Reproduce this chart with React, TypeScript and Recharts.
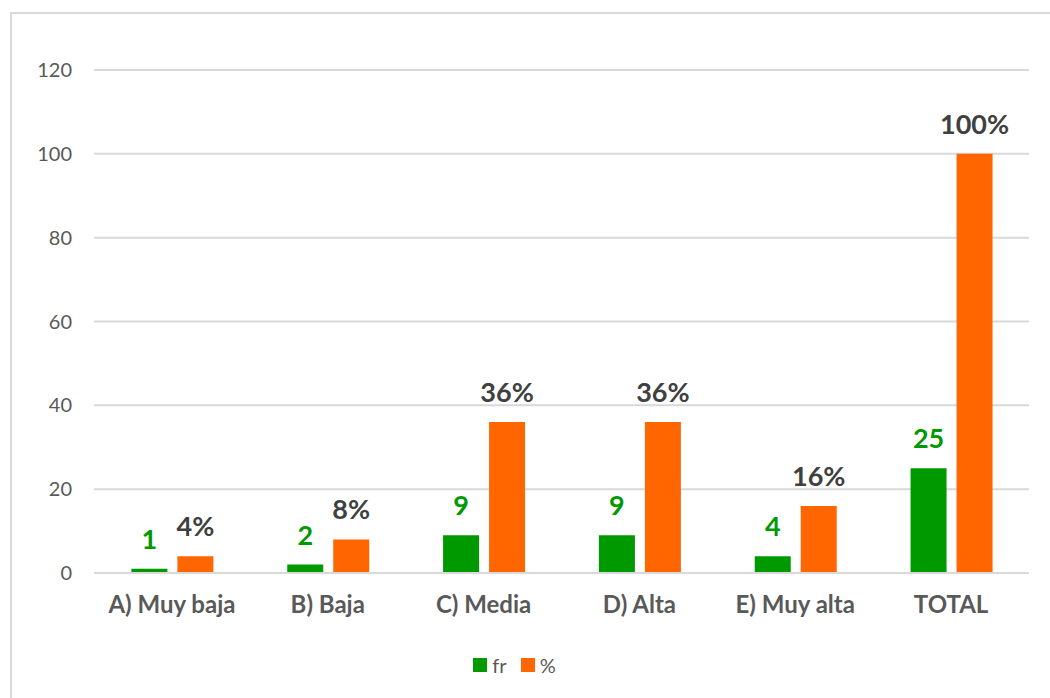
import { BarChart, Bar, XAxis, YAxis, CartesianGrid, Legend, LabelList } from 'recharts';

const categories = ['A) Muy baja', 'B) Baja', 'C) Media', 'D) Alta', 'E) Muy alta', 'TOTAL'];
const frValues = [1, 2, 9, 9, 4, 25];
const pctValues = [4, 8, 36, 36, 16, 100];
const yTicks = [0, 20, 40, 60, 80, 100, 120];

const GREEN = '#009900';
const ORANGE = '#FF6600';
const FONT = 'Lato, "Open Sans", sans-serif';

const data = categories.map((name, i) => ({ name, fr: frValues[i], pct: pctValues[i] }));

const LegendContent = () => (
  <div style={{ display: 'flex', justifyContent: 'center', gap: 14, paddingTop: 10, fontFamily: FONT, fontSize: 20, color: '#595959' }}>
    <span style={{ display: 'flex', alignItems: 'center', gap: 5 }}>
      <span style={{ width: 14, height: 14, background: GREEN, display: 'inline-block' }} />fr
    </span>
    <span style={{ display: 'flex', alignItems: 'center', gap: 5 }}>
      <span style={{ width: 14, height: 14, background: ORANGE, display: 'inline-block' }} />%
    </span>
  </div>
);

export default function App() {
  return (
    <div style={{ position: 'absolute', left: 0, top: 0, width: 1050, height: 698, background: '#fff', overflow: 'hidden' }}>
      <div style={{ position: 'absolute', left: 10, top: 12, width: 1060, height: 700, border: '2px solid #d9d9d9', boxSizing: 'border-box' }} />
      <BarChart
        width={1050}
        height={698}
        data={data}
        margin={{ top: 70, right: 21, bottom: 0, left: 0 }}
        barCategoryGap="24%"
        barGap={10}
        style={{ position: 'absolute', left: 0, top: 0 }}
      >
        <CartesianGrid vertical={false} stroke="#d9d9d9" strokeWidth={2} />
        <YAxis
          domain={[0, 120]}
          ticks={yTicks}
          width={94}
          axisLine={false}
          tickLine={false}
          tickMargin={16}
          tick={{ fontFamily: FONT, fontSize: 20, fill: '#595959' }}
        />
        <XAxis
          dataKey="name"
          height={70}
          axisLine={{ stroke: '#d9d9d9', strokeWidth: 2 }}
          tickLine={false}
          tickMargin={17}
          interval={0}
          tick={{ fontFamily: FONT, fontSize: 24, fontWeight: 700, fill: '#595959' }}
        />
        <Legend verticalAlign="bottom" height={55} content={<LegendContent />} />
        <Bar dataKey="fr" name="fr" fill={GREEN} isAnimationActive={false}>
          <LabelList dataKey="fr" position="top" offset={20} style={{ fontFamily: FONT, fontSize: 27, fontWeight: 700, fill: GREEN }} />
        </Bar>
        <Bar dataKey="pct" name="%" fill={ORANGE} isAnimationActive={false}>
          <LabelList
            dataKey="pct"
            position="top"
            offset={20}
            formatter={(v: number) => `${v}%`}
            style={{ fontFamily: FONT, fontSize: 27, fontWeight: 700, fill: '#404040' }}
          />
        </Bar>
      </BarChart>
    </div>
  );
}
